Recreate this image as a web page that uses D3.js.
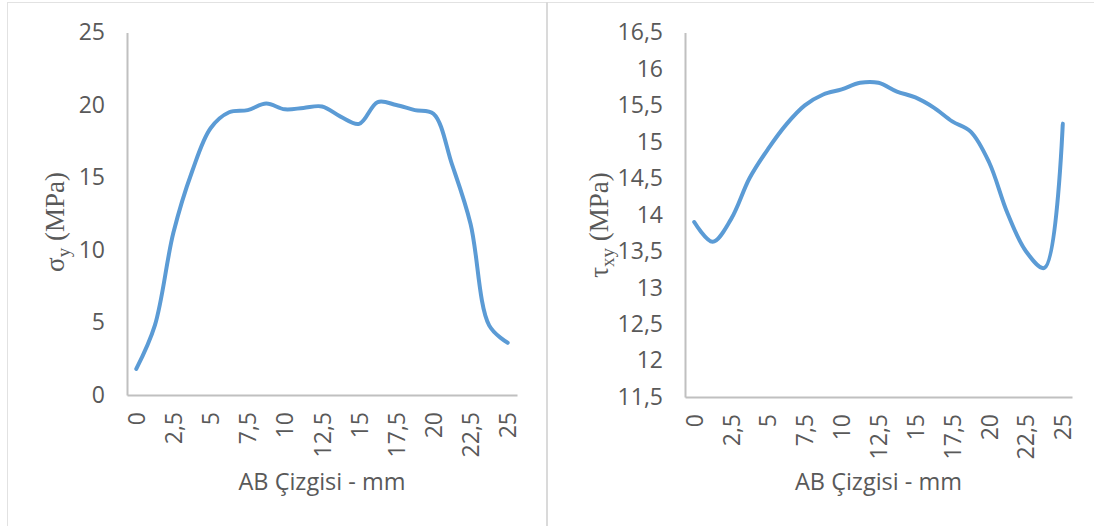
<!DOCTYPE html>
<html>
<head>
<meta charset="utf-8">
<script src="https://cdn.jsdelivr.net/npm/d3@7"></script>
<style>
  html, body { margin: 0; padding: 0; background: #ffffff; }
  svg { display: block; }
  .tick text { font-family: "Open Sans", sans-serif; fill: #595959; }
</style>
</head>
<body>
<svg id="chart" width="1094" height="526"></svg>
<script>
// Positions along line AB (mm)
const positions = [0, 1.25, 2.5, 3.75, 5, 6.25, 7.5, 8.75, 10, 11.25, 12.5,
                   13.75, 15, 16.25, 17.5, 18.75, 20, 21.25, 22.5, 23.75, 25];

// Normal stress sigma_y (MPa)
const sigmaY = [1.8, 4.8, 11.2, 15.4, 18.4, 19.5, 19.65, 20.1, 19.7, 19.8, 19.9,
                19.2, 18.7, 20.2, 20.0, 19.65, 19.4, 15.9, 11.8, 4.8, 3.6];

// Shear stress tau_xy (MPa)
const tauXY = [13.9, 13.63, 13.94, 14.5, 14.9, 15.24, 15.5, 15.65, 15.72, 15.81, 15.81,
               15.69, 15.61, 15.47, 15.28, 15.14, 14.72, 14.02, 13.5, 13.27, 15.25];

const sigmaTicks = [0, 5, 10, 15, 20, 25];
const tauTicks = [11.5, 12, 12.5, 13, 13.5, 14, 14.5, 15, 15.5, 16, 16.5];
const xLabelEvery = 2;   // every second position gets a label

const xTitle = "AB Çizgisi - mm";
const fmt = v => String(v).replace(".", ",");

const svg = d3.select("#chart");

// chart frames
const frame = svg.append("g").attr("fill", "none");
frame.append("line").attr("x1", 7).attr("x2", 1094).attr("y1", 2.5).attr("y2", 2.5)
  .attr("stroke", "#e2e2e2").attr("stroke-width", 1);
frame.append("line").attr("x1", 7.5).attr("x2", 7.5).attr("y1", 2).attr("y2", 526)
  .attr("stroke", "#e2e2e2").attr("stroke-width", 1);
frame.append("line").attr("x1", 547).attr("x2", 547).attr("y1", 2).attr("y2", 526)
  .attr("stroke", "#dadada").attr("stroke-width", 2);

function drawPanel(opts) {
  const g = svg.append("g");
  const x = d3.scaleBand().domain(positions).range([opts.left, opts.right]).padding(0);
  const cx = d => x(d) + x.bandwidth() / 2;
  const y = d3.scaleLinear().domain(opts.domain).range([opts.bottom, opts.top]);

  // y axis
  const yAxis = g.append("g")
    .attr("transform", `translate(${opts.left},0)`)
    .call(d3.axisLeft(y).tickValues(opts.ticks).tickSize(0).tickSizeOuter(0)
      .tickPadding(22).tickFormat(fmt));
  yAxis.select(".domain").attr("stroke", "#c0c0c0").attr("stroke-width", 2);
  yAxis.selectAll(".tick text").attr("font-size", 23);

  // x axis
  const xAxis = g.append("g")
    .attr("transform", `translate(0,${opts.bottom})`)
    .call(d3.axisBottom(x)
      .tickValues(positions.filter((d, i) => i % xLabelEvery === 0))
      .tickSize(0).tickSizeOuter(0).tickFormat(fmt));
  xAxis.select(".domain").attr("stroke", "#c0c0c0").attr("stroke-width", 2);
  xAxis.selectAll(".tick text")
    .attr("font-size", 23)
    .attr("transform", "rotate(-90)")
    .attr("x", -17).attr("y", 0).attr("dy", "0.37em")
    .attr("text-anchor", "end");

  // smoothed data line
  const line = d3.line()
    .x((d, i) => cx(positions[i]))
    .y(d => y(d))
    .curve(d3.curveCatmullRom.alpha(0.5));
  g.append("path")
    .datum(opts.values)
    .attr("fill", "none")
    .attr("stroke", "#5b9bd5")
    .attr("stroke-width", 4)
    .attr("stroke-linejoin", "round")
    .attr("stroke-linecap", "round")
    .attr("d", line);

  // x title
  g.append("text")
    .attr("x", (opts.left + opts.right) / 2)
    .attr("y", 490)
    .attr("text-anchor", "middle")
    .attr("font-family", "'Open Sans', sans-serif")
    .attr("font-size", 23.5)
    .attr("fill", "#595959")
    .text(xTitle);

  // y title with subscript
  const t = g.append("text")
    .attr("transform", `translate(${opts.titleX},${opts.titleY}) rotate(-90)`)
    .attr("text-anchor", "middle")
    .attr("font-family", "'Liberation Serif', 'Times New Roman', serif")
    .attr("font-size", 27)
    .attr("fill", "#595959");
  t.append("tspan").text(opts.symbol);
  t.append("tspan").attr("font-size", 19).attr("dy", 6).text(opts.sub);
  t.append("tspan").attr("dy", -6).text(" (MPa)");
}

drawPanel({
  left: 127, right: 517, top: 32.5, bottom: 395,
  domain: [0, 25], ticks: sigmaTicks, values: sigmaY,
  titleX: 64, titleY: 222, symbol: "σ", sub: "y"
});

drawPanel({
  left: 685, right: 1072, top: 32.5, bottom: 397,
  domain: [11.5, 16.5], ticks: tauTicks, values: tauXY,
  titleX: 608, titleY: 225, symbol: "τ", sub: "xy"
});
</script>
</body>
</html>
